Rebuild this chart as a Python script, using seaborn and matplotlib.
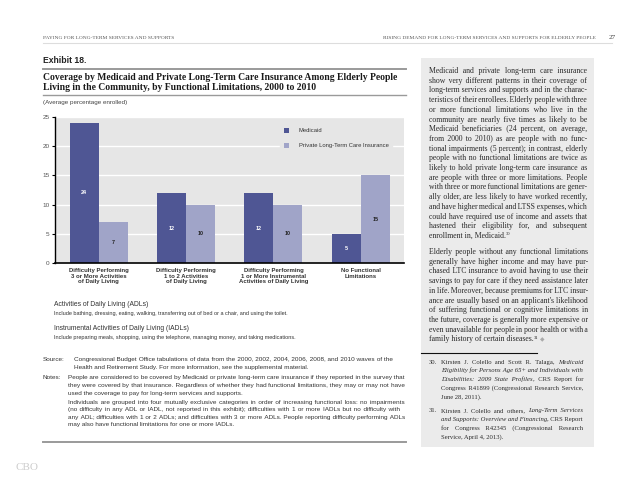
import matplotlib
matplotlib.use("Agg")
import matplotlib.pyplot as plt
from matplotlib.lines import Line2D
from matplotlib.patches import Rectangle, Patch
import pandas as pd
import seaborn as sns

# ---------------- data ----------------
categories = [
    "Difficulty Performing\n3 or More Activities\nof Daily Living",
    "Difficulty Performing\n1 to 2 Activities\nof Daily Living",
    "Difficulty Performing\n1 or More Instrumental\nActivities of Daily Living",
    "No Functional\nLimitations",
]
series_names = ["Medicaid", "Private Long-Term Care Insurance"]
medicaid = [24, 12, 12, 5]
private_ltc = [7, 10, 10, 15]
y_ticks = [0, 5, 10, 15, 20, 25]

header_left = "PAYING FOR LONG-TERM SERVICES AND SUPPORTS"
header_right = "RISING DEMAND FOR LONG-TERM SERVICES AND SUPPORTS FOR ELDERLY PEOPLE"
page_number = "27"
exhibit_label = "Exhibit 18."
title_lines = [
    "Coverage by Medicaid and Private Long-Term Care Insurance Among Elderly People",
    "Living in the Community, by Functional Limitations, 2000 to 2010",
]
units_label = "(Average percentage enrolled)"
adl_head = "Activities of Daily Living (ADLs)"
adl_text = "Include bathing, dressing, eating, walking, transferring out of bed or a chair, and using the toilet."
iadl_head = "Instrumental Activities of Daily Living (IADLs)"
iadl_text = "Include preparing meals, shopping, using the telephone, managing money, and taking medications."
source_lines = [
    "Congressional Budget Office tabulations of data from the 2000, 2002, 2004, 2006, 2008, and 2010 waves of the",
    "Health and Retirement Study. For more information, see the supplemental material.",
]
notes_p1 = [
    "People are considered to be covered by Medicaid or private long-term care insurance if they reported in the survey that",
    "they were covered by that insurance. Regardless of whether they had functional limitations, they may or may not have",
    "used the coverage to pay for long-term services and supports.",
]
notes_p2 = [
    "Individuals are grouped into four mutually exclusive categories in order of increasing functional loss: no impairments",
    "(no difficulty in any ADL or IADL, not reported in this exhibit); difficulties with 1 or more IADLs but no difficulty with",
    "any ADL; difficulties with 1 or 2 ADLs; and difficulties with 3 or more ADLs. People reporting difficulty performing ADLs",
    "may also have functional limitations for one or more IADLs.",
]
side_p1 = [
    "Medicaid and private long-term care insurance",
    "show very different patterns in their coverage of",
    "long-term services and supports and in the charac-",
    "teristics of their enrollees. Elderly people with three",
    "or more functional limitations who live in the",
    "community are nearly five times as likely to be",
    "Medicaid beneficiaries (24 percent, on average,",
    "from 2000 to 2010) as are people with no func-",
    "tional impairments (5 percent); in contrast, elderly",
    "people with no functional limitations are twice as",
    "likely to hold private long-term care insurance as",
    "are people with three or more limitations. People",
    "with three or more functional limitations are gener-",
    "ally older, are less likely to have worked recently,",
    "and have higher medical and LTSS expenses, which",
    "could have required use of income and assets that",
    "hastened their eligibility for, and subsequent",
    "enrollment in, Medicaid.",
]
side_p2 = [
    "Elderly people without any functional limitations",
    "generally have higher income and may have pur-",
    "chased LTC insurance to avoid having to use their",
    "savings to pay for care if they need assistance later",
    "in life. Moreover, because premiums for LTC insur-",
    "ance are usually based on an applicant's likelihood",
    "of suffering functional or cognitive limitations in",
    "the future, coverage is generally more expensive or",
    "even unavailable for people in poor health or with a",
    "family history of certain diseases.",
]

# ---------------- style ----------------
DARK = "#4f5694"
LIGHT = "#a0a4c8"
BG = "#e6e6e6"
BOX = "#ebebeb"
TXT = "#333333"
SERIF = ["Liberation Serif", "DejaVu Serif", "DejaVu Sans"]
SANS = ["Liberation Sans", "DejaVu Sans"]
HAIR = "\u200a"
SIXEM = "\u2006"

W, H, DPI = 638, 493, 100
plt.rcParams["font.family"] = SANS
fig = plt.figure(figsize=(W / DPI, H / DPI), dpi=DPI)
fig.patch.set_facecolor("white")
renderer = fig.canvas.get_renderer()


def fx(x):
    return x / W


def fy(y):
    return 1 - y / H


def hline(x0, x1, y, color, lw):
    fig.add_artist(Line2D([fx(x0), fx(x1)], [fy(y), fy(y)], transform=fig.transFigure,
                          color=color, linewidth=lw))


def clean(kw):
    k = dict(kw)
    k.pop("dy", None)
    return k


def nat_w(s, kw):
    t = fig.text(0, 0, s, **clean(kw))
    w = t.get_window_extent(renderer).width
    t.remove()
    return w


def gap_w(ch, kw, n=1):
    return (nat_w("n" + ch * n + "n", kw) - nat_w("nn", kw)) / n


def fit(kw, lines, targets, factor=1.0):
    """font size so that the natural width of the lines matches the measured widths"""
    tot = sum(nat_w(l, kw) for l in lines)
    k = dict(kw)
    k["fontsize"] = kw["fontsize"] * sum(targets) / tot * factor
    return k


def base_y(y, kw):
    # y is the visual centre of the line in px; return the baseline
    return y + 0.30 * kw["fontsize"] / 72 * DPI


def put(x, y, s, kw, ha="left"):
    return fig.text(fx(x), fy(base_y(y, kw)), s, ha=ha, va="baseline", **clean(kw))


def draw_line(x, y, parts, width=None):
    """parts: list of (text, style). A trailing blank means a space follows the run.
    If width is given the line is justified by building each word gap out of
    a normal / six-per-em space plus hair spaces."""
    segs = [[s.strip(" "), kw, s.endswith(" ")] for s, kw in parts]
    ref = parts[0][1]
    sp_w = gap_w(" ", ref)
    six_w = gap_w(SIXEM, ref)
    hair_w = max(gap_w(HAIR, ref, 4), 0.15)
    nslots = sum(s.count(" ") + (1 if sa else 0) for s, _, sa in segs)
    extra = [0.0] * len(segs)
    if width is not None and nslots > 0:
        words_w = sum(nat_w(s, kw) for s, kw, _ in segs) - sum(s.count(" ") for s, _, _ in segs) * sp_w
        g = (width - words_w) / nslots
        built = 0.0
        j = 0
        new = []
        for i, (s, kw, sa) in enumerate(segs):
            out = ""
            pieces = s.split(" ")
            for p_i, piece in enumerate(pieces):
                out += piece
                if p_i < len(pieces) - 1:
                    j += 1
                    need = g * j - built
                    if need >= sp_w:
                        base, bw = " ", sp_w
                    else:
                        base, bw = SIXEM, six_w
                    k = max(0, int(round((need - bw) / hair_w)))
                    out += base + HAIR * k
                    built += bw + k * hair_w
            if sa:
                j += 1
                need = g * j - built
                extra[i] = need
                built += need
            new.append(out)
        for i in range(len(segs)):
            segs[i][0] = new[i]
    yb = base_y(y, ref)
    cx = x
    for i, (s, kw, sa) in enumerate(segs):
        dy = kw.get("dy", 0)
        t = fig.text(fx(cx), fy(yb + dy), s, ha="left", va="baseline", **clean(kw))
        cx += t.get_window_extent(renderer).width
        if sa:
            cx += extra[i] if width is not None else gap_w(" ", kw)


# ---------------- font sizes fitted to measured text widths ----------------
HK = fit(dict(fontfamily=SERIF, fontsize=4, color="#555555"), [header_left], [131])
EK = fit(dict(fontsize=6, fontweight="bold", color="#222222"), [exhibit_label], [44])
TK = fit(dict(fontfamily=SERIF, fontsize=7, fontweight="bold", color="#1a1a1a"), [title_lines[0]], [356])
UK = fit(dict(fontsize=4, color="#444444"), [units_label], [84])
AHK = fit(dict(fontsize=4, color=TXT), [adl_head], [93])
ATK = fit(dict(fontsize=4, color=TXT), [adl_text], [233])
NK = fit(dict(fontsize=4, color=TXT), [source_lines[0], notes_p1[0], notes_p1[1], notes_p2[0]],
         [319, 337, 337, 337], 0.98)
SK = fit(dict(fontfamily=SERIF, fontsize=5.5, color="#2a2a2a"),
         side_p1[:-1] + side_p2[:-1], [157.5] * (len(side_p1) + len(side_p2) - 2), 0.97)
FK = fit(dict(fontfamily=SERIF, fontsize=4.6, color="#2a2a2a"),
         ["Congress R41899 (Congressional Research Service,"], [142], 0.98)
FI = dict(FK, fontstyle="italic")
SUP = dict(SK, fontsize=SK["fontsize"] * 0.62, dy=-2.8)
DIA = dict(fontfamily=["DejaVu Sans"], fontsize=SK["fontsize"] * 0.75, color="#aaaaaa")
CAT_PT = fit(dict(fontsize=4, fontweight="bold"), ["Difficulty Performing"], [59])["fontsize"]
LEG_PT = fit(dict(fontsize=4), [series_names[1]], [89])["fontsize"]

# ---------------- page furniture ----------------
put(42.7, 37.3, header_left, HK)
put(596, 37.3, header_right, HK, ha="right")
put(616, 37.3, page_number, dict(fontfamily=SERIF, fontsize=5.2, color="#444444"), ha="right")
hline(42.7, 612, 43.3, "#dddddd", 0.8)

put(42.7, 60.7, exhibit_label, EK)
hline(42.7, 406, 68.7, "#9a9a9a", 1.4)
for i, ln in enumerate(title_lines):
    put(43, 76.7 + i * 10.6, ln, TK)
hline(42.7, 406, 95.3, "#9a9a9a", 1.0)
put(42.7, 102.3, units_label, UK)

# ---------------- chart ----------------
df = pd.DataFrame({
    "category": categories * 2,
    "series": [series_names[0]] * len(categories) + [series_names[1]] * len(categories),
    "value": medicaid + private_ltc,
})

ax = fig.add_axes([fx(55), fy(263.3), (404.5 - 55) / W, (263.3 - 116.7) / H])
ax.set_facecolor(BG)
sns.barplot(data=df, x="category", y="value", hue="series", palette=[DARK, LIGHT],
            width=0.665, saturation=1, linewidth=0, errorbar=None, legend=False, ax=ax)

for cont, vals, col in zip(ax.containers, [medicaid, private_ltc], ["white", "#222222"]):
    ax.bar_label(cont, labels=[str(v) for v in vals], label_type="center", color=col,
                 fontsize=3.9, fontweight="bold")

ax.set_ylim(0, 25)
ax.set_yticks(y_ticks)
ax.set_xlim(-0.5, 3.5)
ax.set_xlabel("")
ax.set_ylabel("")
for s in ["top", "right"]:
    ax.spines[s].set_visible(False)
ax.spines["left"].set_color("black")
ax.spines["left"].set_linewidth(1.0)
ax.spines["bottom"].set_color("black")
ax.spines["bottom"].set_linewidth(1.2)
ax.yaxis.grid(True, color="white", linewidth=1.0)
ax.xaxis.grid(False)
ax.set_axisbelow(True)
ax.tick_params(axis="y", length=2.5, width=0.8, color="black", pad=1.5, labelsize=4.6, labelcolor="#555555")
ax.tick_params(axis="x", length=0, pad=3.2, labelsize=CAT_PT, labelcolor=TXT)
for t in ax.get_xticklabels():
    t.set_fontweight("bold")
    t.set_linespacing(1.2)

handles = [Patch(facecolor=DARK, edgecolor="none"), Patch(facecolor=LIGHT, edgecolor="none")]
ax.legend(handles, series_names, loc="center left",
          bbox_to_anchor=((280 - 55) / 349.5, (263.3 - 138) / 146.6),
          frameon=True, facecolor=BG, edgecolor=BG, framealpha=1, fancybox=False,
          fontsize=LEG_PT, handlelength=1.0, handleheight=1.0, handletextpad=1.6,
          labelspacing=1.6, borderpad=0.6, borderaxespad=0, labelcolor=TXT)

# ---------------- definitions, source, notes ----------------
put(54.3, 304, adl_head, AHK)
put(54.3, 313.7, adl_text, ATK)
put(54.3, 328.3, iadl_head, AHK)
put(54.3, 337.7, iadl_text, ATK)

put(42.7, 359, "Source:", NK)
draw_line(74, 359, [(source_lines[0], NK)], width=393 - 74)
draw_line(74, 367.3, [(source_lines[1], NK)])

put(42.7, 376.7, "Notes:", NK)
ys1 = [376.7, 384.7, 392.7]
for i, ln in enumerate(notes_p1):
    draw_line(68.3, ys1[i], [(ln, NK)], width=(405 - 68.3) if i < 2 else None)
ys2 = [401.7, 409.3, 416.9, 424.5]
ends2 = [405, 400, 404, None]
for i, ln in enumerate(notes_p2):
    draw_line(68.3, ys2[i], [(ln, NK)], width=(ends2[i] - 68.3) if ends2[i] else None)
hline(42.7, 406, 442, "#9a9a9a", 1.4)

put(16, 467, "CBO", dict(fontfamily=SERIF, fontsize=8, color="#cccccc"))

# ---------------- sidebar ----------------
fig.add_artist(Rectangle((fx(421), fy(447.3)), (594 - 421) / W, (447.3 - 58) / H,
                         transform=fig.transFigure, facecolor=BOX, edgecolor="none", zorder=0))
step = 9.7
for i, ln in enumerate(side_p1):
    y = 70.7 + i * step
    if i == len(side_p1) - 1:
        draw_line(429, y, [(ln, SK), ("30", SUP)])
    else:
        draw_line(429, y, [(ln, SK)], width=587 - 429)
for i, ln in enumerate(side_p2):
    y = 251.7 + i * step
    if i == len(side_p2) - 1:
        draw_line(429, y, [(ln, SK), ("31 ", SUP), ("\u25c6", DIA)])
    else:
        draw_line(429, y, [(ln, SK)], width=588 - 429)

hline(421, 537, 352.7, "#111111", 0.8)

fn30 = [
    [("Kirsten J. Colello and Scott R. Talaga, ", FK), ("Medicaid", FI)],
    [("Eligibility for Persons Age 65+ and Individuals with", FI)],
    [("Disabilities: 2009 State Profiles", FI), (", CRS Report for", FK)],
    [("Congress R41899 (Congressional Research Service,", FK)],
    [("June 28, 2011).", FK)],
]
fn31 = [
    [("Kirsten J. Colello and others, ", FK), ("Long-Term Services", FI)],
    [("and Supports: Overview and Financing", FI), (", CRS Report", FK)],
    [("for Congress R42345 (Congressional Research", FK)],
    [("Service, April 4, 2013).", FK)],
]
put(429, 361.7, "30.", FK)
for i, parts in enumerate(fn30):
    draw_line(441, 361.7 + i * 8.8, parts, width=(583 - 441) if i < len(fn30) - 1 else None)
put(429, 410, "31.", FK)
for i, parts in enumerate(fn31):
    draw_line(441, 410 + i * 8.8, parts, width=(583 - 441) if i < len(fn31) - 1 else None)

fig.savefig("out.png", dpi=DPI, facecolor="white")
